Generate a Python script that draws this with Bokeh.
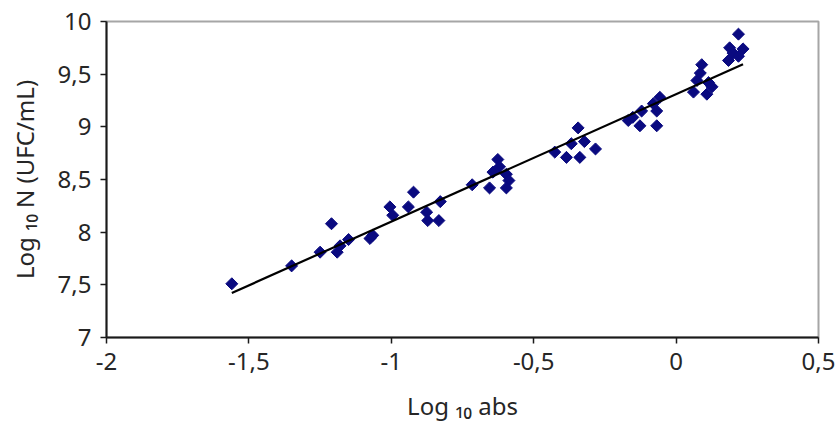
from bokeh.plotting import figure
from bokeh.models import FixedTicker, ColumnDataSource
from bokeh.embed import file_html
from bokeh.resources import INLINE
import numpy as np

# ---- data ----
log_abs = [-1.56, -1.35, -1.25, -1.21, -1.19, -1.18, -1.15, -1.075, -1.065,
           -1.005, -0.995, -0.94, -0.922, -0.876, -0.872, -0.833, -0.828,
           -0.716, -0.655, -0.643, -0.626, -0.62, -0.596, -0.587, -0.596,
           -0.426, -0.385, -0.368, -0.344, -0.338, -0.322, -0.283,
           -0.168, -0.152, -0.127, -0.121, -0.08, -0.068, -0.068, -0.057,
           0.061, 0.073, 0.085, 0.09, 0.108, 0.114, 0.126,
           0.184, 0.188, 0.2, 0.219, 0.219, 0.235]
log_n = [7.51, 7.68, 7.81, 8.08, 7.81, 7.87, 7.93, 7.94, 7.97,
         8.24, 8.16, 8.24, 8.38, 8.19, 8.11, 8.11, 8.29,
         8.45, 8.42, 8.57, 8.69, 8.62, 8.55, 8.49, 8.42,
         8.76, 8.71, 8.84, 8.99, 8.71, 8.86, 8.79,
         9.06, 9.09, 9.01, 9.15, 9.22, 9.15, 9.01, 9.28,
         9.33, 9.44, 9.51, 9.59, 9.31, 9.42, 9.38,
         9.63, 9.75, 9.70, 9.67, 9.88, 9.74]

fit_slope = 1.21
fit_intercept = 9.31

x_ticks = [-2, -1.5, -1, -0.5, 0, 0.5]
x_tick_labels = ["-2", "-1,5", "-1", "-0,5", "0", "0,5"]
y_ticks = [7, 7.5, 8, 8.5, 9, 9.5, 10]
y_tick_labels = ["7", "7,5", "8", "8,5", "9", "9,5", "10"]

x_title = "Log \u2081\u2080 abs"
y_title = "Log \u2081\u2080 N (UFC/mL)"

FONT = "Noto Sans"
TXT = "#262626"

p = figure(width=840, height=425, output_backend="svg", toolbar_location=None,
           x_range=(-2, 0.5), y_range=(7, 10),
           min_border_left=106, min_border_right=22, min_border_top=21,
           min_border_bottom=88)

p.xgrid.visible = False
p.ygrid.visible = False
p.outline_line_color = "#a6a6a6"
p.outline_line_width = 2
p.background_fill_color = "white"
p.border_fill_color = "white"

for ax in (p.xaxis[0], p.yaxis[0]):
    ax.axis_line_color = "#1a1a1a"
    ax.axis_line_width = 2
    ax.major_tick_line_color = "#1a1a1a"
    ax.major_tick_line_width = 1.5
    ax.major_tick_in = 0
    ax.major_tick_out = 6
    ax.minor_tick_line_color = None
    ax.major_label_text_font = FONT
    ax.major_label_text_font_size = "24px"
    ax.major_label_text_color = TXT
    ax.axis_label_text_font = FONT
    ax.axis_label_text_font_size = "24px"
    ax.axis_label_text_font_style = "normal"
    ax.axis_label_text_color = TXT

p.xaxis[0].ticker = FixedTicker(ticks=x_ticks)
p.yaxis[0].ticker = FixedTicker(ticks=y_ticks)
p.xaxis[0].major_label_overrides = {t: l for t, l in zip(x_ticks, x_tick_labels)}
p.yaxis[0].major_label_overrides = {t: l for t, l in zip(y_ticks, y_tick_labels)}
p.xaxis[0].major_label_standoff = 9
p.yaxis[0].major_label_standoff = 9
p.xaxis[0].axis_label = x_title
p.yaxis[0].axis_label = y_title
p.xaxis[0].axis_label_standoff = 16
p.yaxis[0].axis_label_standoff = 14

src = ColumnDataSource(dict(x=log_abs, y=log_n))
p.scatter("x", "y", source=src, marker="square", angle=np.pi / 4, size=8.5,
          fill_color="#0a0a80", line_color="#0a0a80", line_width=1)

fx = [min(log_abs), max(log_abs)]
fy = [fit_intercept + fit_slope * v for v in fx]
p.line(fx, fy, line_color="black", line_width=2.2)

open("out.html", "w").write(file_html(p, INLINE))
